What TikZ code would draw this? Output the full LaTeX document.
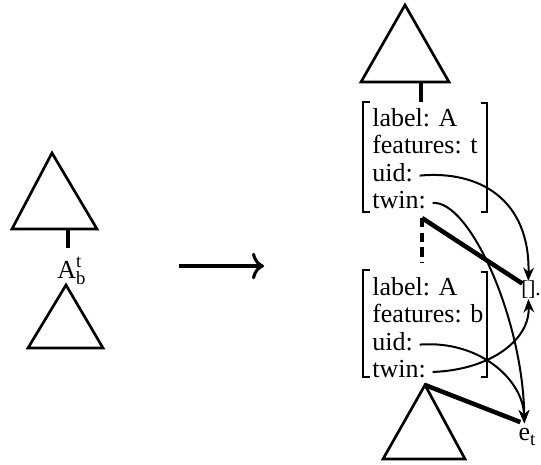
\documentclass[tikz,border=0pt]{standalone}
\usepackage{fontspec}
\setmainfont{Liberation Serif}
\usetikzlibrary{arrows.meta, positioning}
\usetikzlibrary{matrix}

\tikzset{
    tree/.style={line width=2pt, line join=miter},
    brk/.style={line width=2pt},
    bar/.style={line width=3.4pt},
    link/.style={line width=1.5pt, -{Stealth[length=10pt,width=8pt]}},
    fs/.style={matrix of nodes, anchor=north west, inner sep=0pt, row sep=3pt,
        nodes={anchor=base west, inner sep=0pt, text height=13pt, text depth=4.5pt}}
}
\newcommand{\scr}[1]{{\fontsize{14}{14}\selectfont #1}}

\begin{document}
\begin{tikzpicture}[x=0.75pt, y=-0.75pt,
    every node/.style={font=\fontsize{19.5}{23}\selectfont}]
    \useasboundingbox (0,0) rectangle (541,464);

    % left: the node before splitting
    \draw[tree] (52,153) -- (12,229) -- (97,229) -- cycle;
    \coordinate (lstem) at (68,229);
    \draw[line width=2.4pt] (lstem) -- ++(0,19);
    \node[anchor=base west, inner sep=0pt] (lab) at (57,278)
        {A\rlap{\raisebox{8pt}{\scr{t}}}\raisebox{-4.5pt}{\scr{b}}};
    \draw[tree] (66,285) -- (28,348) -- (103,348) -- cycle;

    \coordinate (from) at (179,266);
    \coordinate (to) at (264,266);
    \draw[line width=2.3pt, -{To[length=9pt,width=20pt]}] (from) -- (to);

    % right: top and bottom halves
    \draw[tree] (405,5) -- (361,82) -- (449,82) -- cycle;
    \coordinate (rstem) at (421,82);
    \draw[line width=2.4pt] (rstem) -- ++(0,20);

    \matrix (top) [fs] at (372,109)
    {
        label: A    \\
        features: t \\
        uid:        \\
        twin:       \\
    };
    \draw[brk] (370,102) -| (363,212) -- (370,212);
    \draw[brk] (481,103) -| (487,212) -- (481,212);

    \matrix (bot) [fs] at (372,278)
    {
        label: A    \\
        features: b \\
        uid:        \\
        twin:       \\
    };
    \draw[brk] (370,270) -| (363,377) -- (370,377);
    \draw[brk] (481,272) -| (487,377) -- (481,377);

    \node[anchor=west, inner sep=0pt, font=\fontsize{16}{19}\selectfont] (nil) at (521,290) {[].};
    \node (et) at (527,437) {e\raisebox{-4pt}{\scr{t}}};

    \coordinate (cut) at (422,218);
    \draw[line width=2.8pt, dash pattern=on 7pt off 4pt] (cut) -- (422,263);
    \draw[bar] (cut) -- ([xshift=1pt,yshift=-2pt]nil.north west);
    \draw[tree] (425,385) -- (383,459) -- (465,459) -- cycle;
    \coordinate (bapex) at (425,385);
    \draw[bar] (bapex) -- ([xshift=-5pt,yshift=1pt]et.north);

    % uid and twin pointers
    \draw[link] ([xshift=5pt]top-3-1.east) .. controls (480,170) and (530,200) .. ([xshift=5.5pt]nil.north west);
    \draw[link] ([xshift=5pt]top-4-1.east) .. controls (470,200) and (523,320) .. ([xshift=-2pt]et.north);
    \draw[link] ([xshift=5pt]bot-3-1.east) .. controls (480,340) and (523,380) .. ([xshift=-2pt]et.north);
    \draw[link] ([xshift=5pt]bot-4-1.east) .. controls (490,370) and (530,340) .. ([xshift=5.5pt]nil.south west);
\end{tikzpicture}
\end{document}
